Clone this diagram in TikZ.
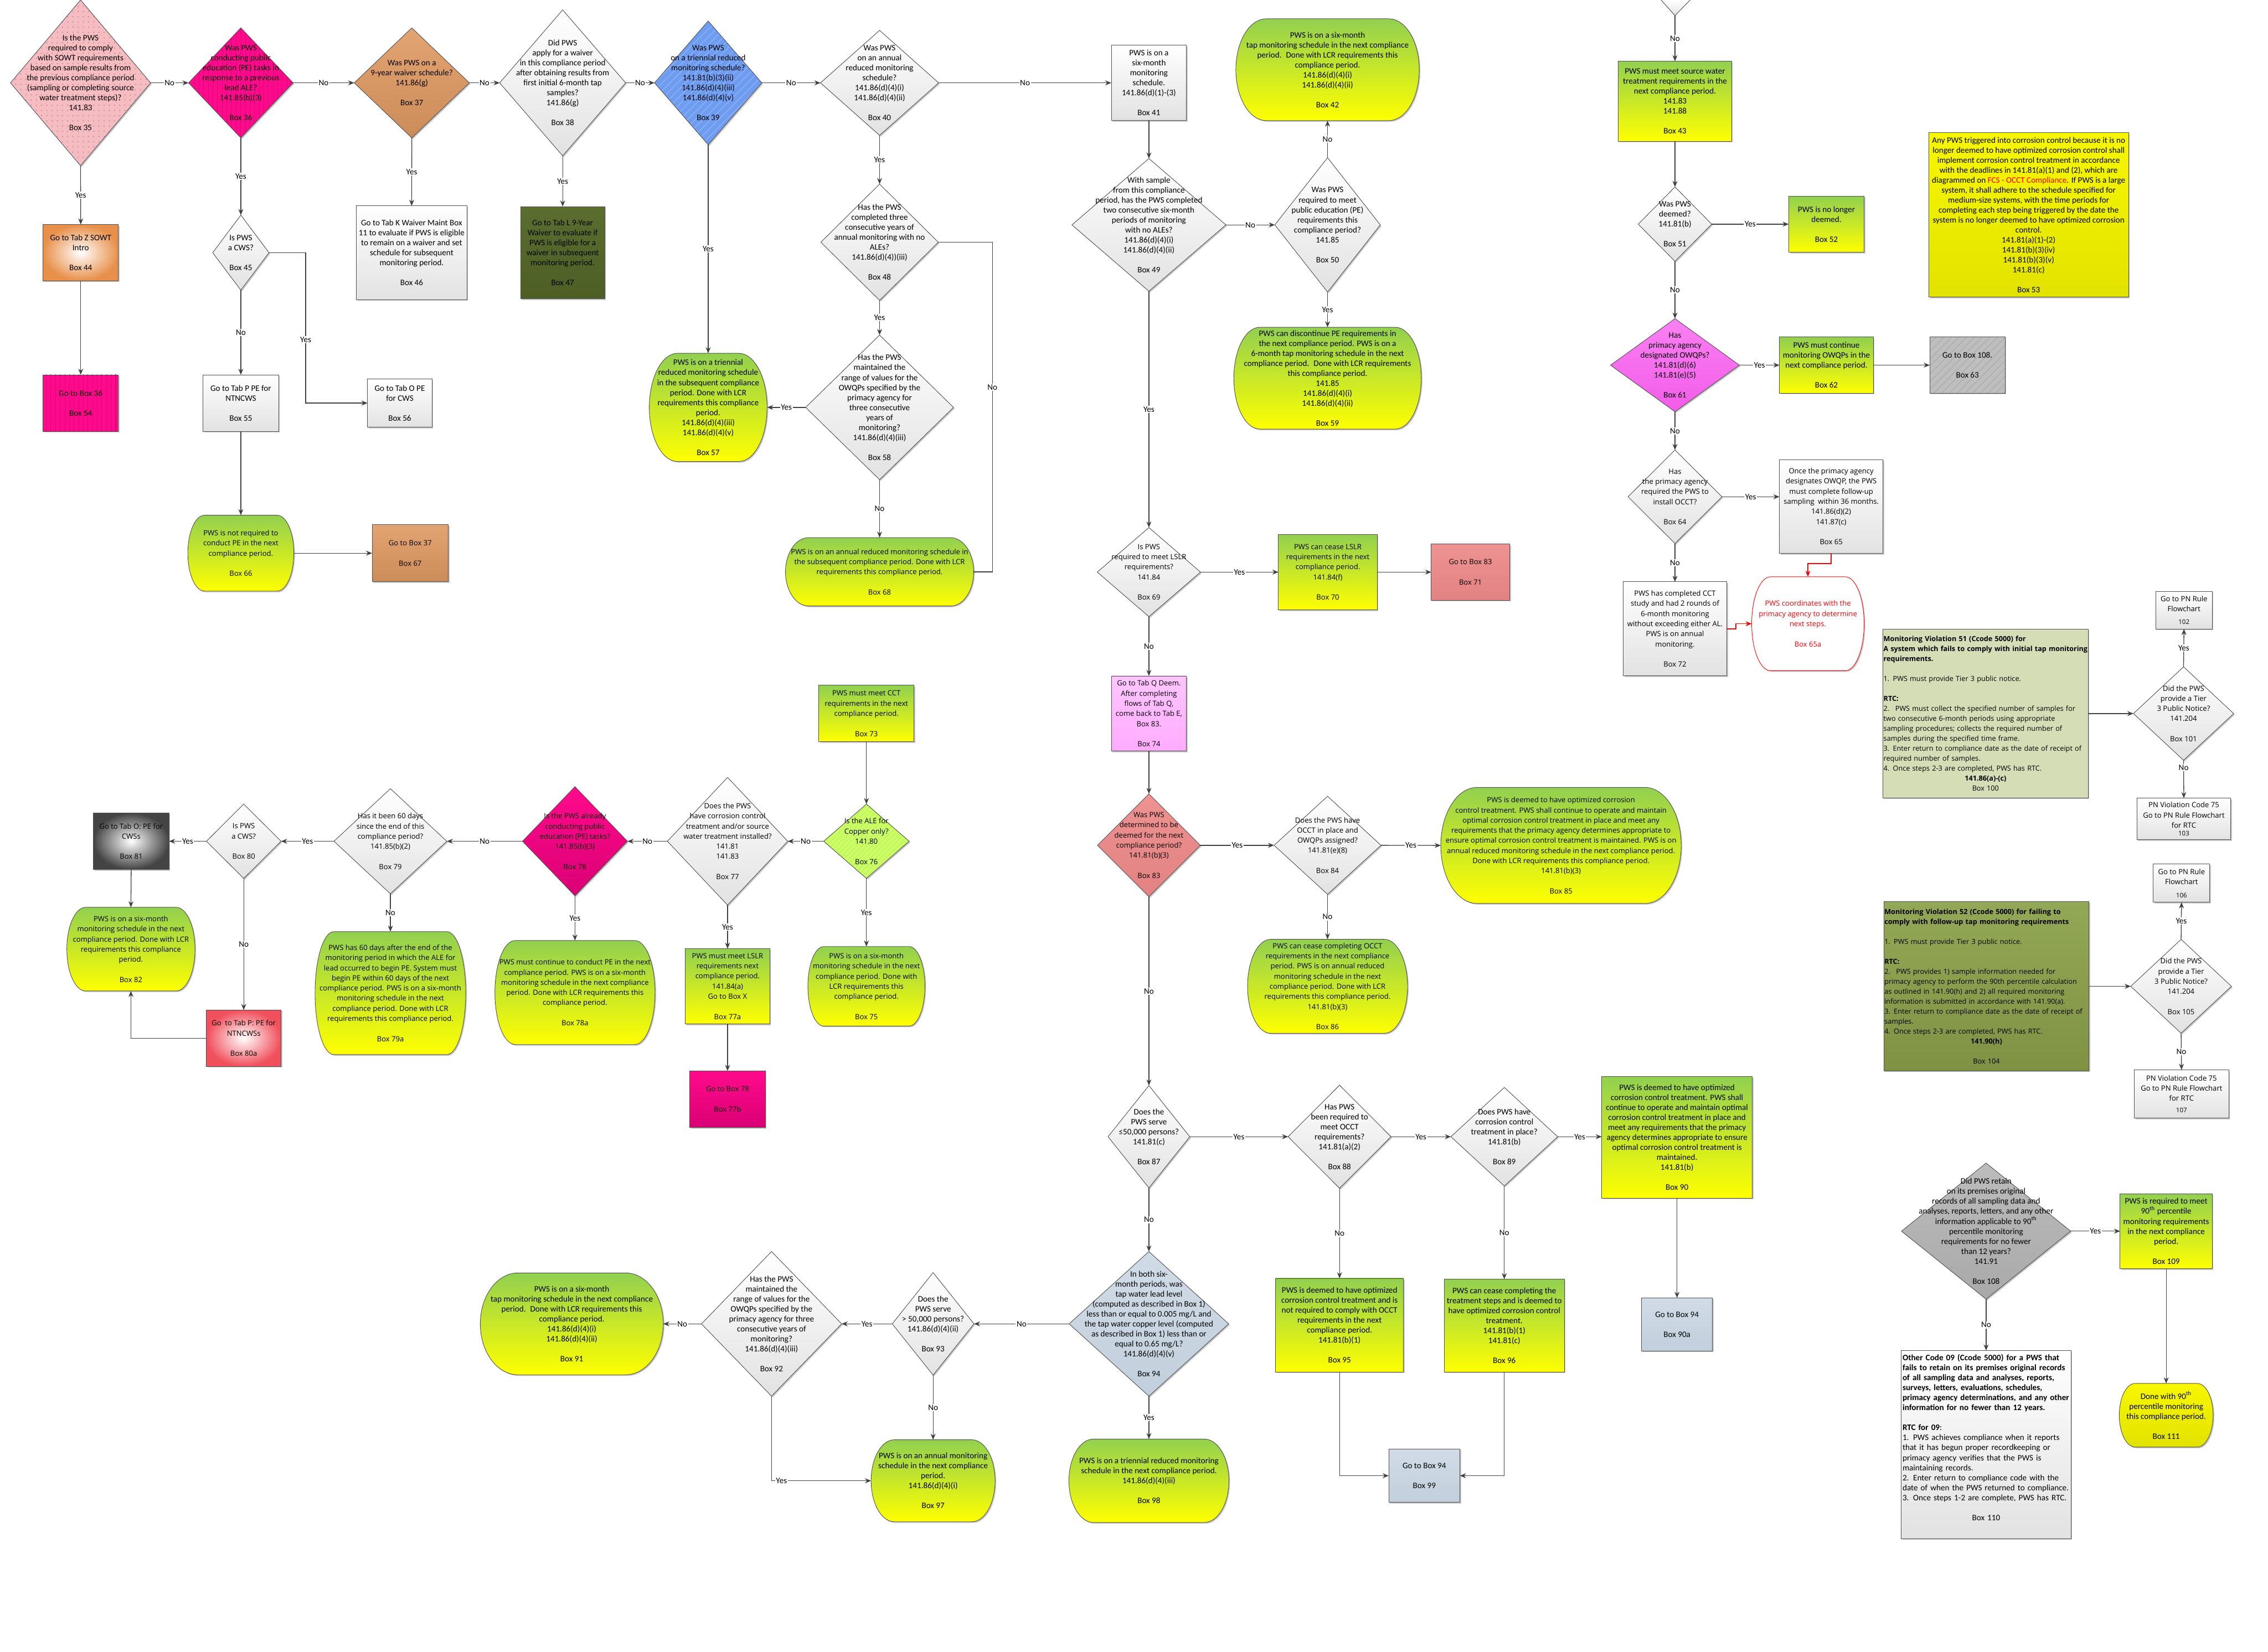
\documentclass[tikz,border=0pt]{standalone}
\usepackage{fontspec}
\usepackage{graphicx}
\setmainfont{Carlito}
\newfontfamily\segfam{Open Sans}
\usetikzlibrary{shapes.geometric,arrows.meta,shadows,patterns.meta}

\definecolor{lc}{HTML}{505050}
\definecolor{ac}{HTML}{404040}
\definecolor{gy1}{HTML}{92D050}
\definecolor{gy2}{HTML}{FFFF00}
\definecolor{g2}{HTML}{E2E2E2}
\definecolor{mag}{HTML}{FF0A8C}
\definecolor{magd}{HTML}{DA0074}
\definecolor{tan1}{HTML}{E2A472}
\definecolor{tan2}{HTML}{CC8C59}
\definecolor{blu}{HTML}{6E9CF0}
\definecolor{blul}{HTML}{93B6F7}
\definecolor{olv1}{HTML}{5B6E30}
\definecolor{olv2}{HTML}{4C5E24}
\definecolor{ora}{HTML}{E8904A}
\definecolor{pnk1}{HTML}{FA80F3}
\definecolor{pnk2}{HTML}{F25CE8}
\definecolor{sal1}{HTML}{EE9292}
\definecolor{sal2}{HTML}{E38282}
\definecolor{lil1}{HTML}{FFC6FF}
\definecolor{lil2}{HTML}{FFABFF}
\definecolor{bg1}{HTML}{D0DBE6}
\definecolor{bg2}{HTML}{C2CFDC}
\definecolor{lgr}{HTML}{CCFF66}
\definecolor{lgrd}{HTML}{B6EC55}
\definecolor{gry}{HTML}{BEBEBE}
\definecolor{gryd}{HTML}{A4A4A4}
\definecolor{ylw1}{HTML}{F7F700}
\definecolor{ylw2}{HTML}{E2E200}
\definecolor{sage}{HTML}{D4DDB6}
\definecolor{ol1}{HTML}{93A856}
\definecolor{ol2}{HTML}{7F9244}
\definecolor{drk}{HTML}{444444}
\definecolor{rdr}{HTML}{F0505C}
\definecolor{gr1}{HTML}{BCBCBC}
\definecolor{gr2}{HTML}{A9A9A9}
\definecolor{pdot}{HTML}{F5BCC2}
\definecolor{pdotd}{HTML}{C9868E}

\newcommand\calf{\fontsize{5.8}{6.9}\selectfont}
\newcommand\segf{\segfam\fontsize{5.0}{7}\selectfont}
\newcommand\panelf{\segfam\fontsize{4.85}{6.9}\selectfont}
\newcommand\gapline{\\[\baselineskip]}
\newcommand\smallno{\fontsize{4.4}{5}\selectfont}
\newcommand\fitline[1]{\resizebox{141pt}{\height}{#1}}

% shape node plus centred text node
\newcommand\bx[8]{%
  \node[#6, minimum width=#4pt, minimum height=#5pt] (#1) at (#2,#3) {};
  \node[#7] at (#1.center) {#8};}
% terminal (stadium with elliptic ends): name, x, y, w, h, end radius, style, text style, text
\newcommand\tm[9]{%
  \node[minimum width=#4pt, minimum height=#5pt, inner sep=0pt, outer sep=0pt] (#1) at (#2,#3) {};
  \path[#7] ([xshift=#6pt]#1.north west) -- ([xshift=-#6pt]#1.north east)
    arc[start angle=90, end angle=-90, x radius=#6pt, y radius=#5pt/2]
    -- ([xshift=#6pt]#1.south west)
    arc[start angle=270, end angle=90, x radius=#6pt, y radius=#5pt/2] -- cycle;
  \node[#8] at (#1.center) {#9};}

\tikzset{
  base/.style={draw=lc, line width=0.35pt, inner sep=0pt, outer sep=0pt,
    drop shadow={shadow xshift=0.8pt, shadow yshift=-0.8pt, opacity=0.22, fill=black}},
  dia/.style={base, shape=diamond},
  rbox/.style={base, rectangle},
  fw/.style={top color=white, bottom color=g2},
  fgy/.style={top color=gy1, bottom color=gy2},
  fdots/.style={preaction={fill=pdot}, pattern={Dots[distance=3.6pt,radius=0.45pt]}, pattern color=pdotd},
  fmagl/.style={preaction={fill=mag}, pattern={Lines[angle=90,distance=3.2pt,line width=0.4pt]}, pattern color=magd},
  ftan/.style={top color=tan1, bottom color=tan2},
  fblue/.style={preaction={fill=blu}, pattern={Lines[angle=45,distance=4pt,line width=0.5pt]}, pattern color=blul},
  folive/.style={top color=olv1, bottom color=olv2},
  forange/.style={inner color=white, outer color=ora},
  fpink/.style={top color=pnk1, bottom color=pnk2},
  fhatch/.style={preaction={fill=gry}, pattern={Lines[angle=45,distance=4pt,line width=0.35pt]}, pattern color=gryd},
  fyel/.style={top color=ylw1, bottom color=ylw2},
  fsalmon/.style={top color=sal1, bottom color=sal2},
  flilac/.style={top color=lil1, bottom color=lil2},
  flime/.style={preaction={fill=lgr}, pattern={Lines[angle=45,distance=2.5pt,line width=0.3pt]}, pattern color=lgrd},
  fmagg/.style={top color=mag, bottom color=magd},
  fdark/.style={inner color=white, outer color=drk},
  fred/.style={inner color=white, outer color=rdr},
  fblue2/.style={top color=bg1, bottom color=bg2},
  fgrey/.style={top color=gr1, bottom color=gr2},
  fsage/.style={fill=sage},
  fol/.style={top color=ol1, bottom color=ol2},
  ct/.style={font=\calf, align=center, inner sep=0pt, text=black},
  st/.style={font=\segf, align=center, inner sep=0pt, text=black},
  pt/.style={font=\panelf, align=left, text width=141pt, inner sep=0pt, text=black},
  lbl/.style={font=\calf, fill=white, inner sep=0.6pt, text=black},
  arr/.style={draw=ac, line width=0.5pt, -{Stealth[length=4.2pt,width=3.4pt]}},
  ln/.style={draw=ac, line width=0.5pt},
  rarr/.style={draw=red, line width=0.6pt, -{Stealth[length=4.2pt,width=3.4pt]}},
}

\begin{document}
\begin{tikzpicture}[x=1pt,y=-1pt]
\useasboundingbox (0,0) rectangle (1568,1142);
\fill[white] (0,0) rectangle (1568,1142);

% ---------- top row ----------
\bx{d35}{55.7}{57.3}{96.9}{114.6}{dia, fdots}{ct}{Is the PWS\\required to comply\\with SOWT requirements\\based on sample results from\\the previous compliance period\\(sampling or completing source\\water treatment steps)?\\141.83\gapline Box 35}
\bx{d36}{166.5}{57.3}{72.3}{76.1}{dia, fmagl}{ct}{Was PWS\\conducting public\\education (PE) tasks in\\response to a previous\\lead ALE?\\141.85(b)(3)\gapline Box 36}
\bx{d37}{284.7}{57.3}{79.6}{76.1}{dia, ftan}{ct}{Was PWS on a\\9-year waiver schedule?\\141.86(g)\gapline Box 37}
\bx{d38}{389}{57.3}{87.1}{100.9}{dia, fw}{ct}{Did PWS\\apply for a waiver\\in this compliance period\\after obtaining results from\\first initial 6-month tap\\samples?\\141.86(g)\gapline Box 38}
\bx{d39}{489.6}{57.3}{74.2}{85.6}{dia, fblue}{ct}{Was PWS\\on a triennial reduced\\monitoring schedule?\\141.81(b)(3)(ii)\\141.86(d)(4)(iii)\\141.86(d)(4)(v)\gapline Box 39}
\bx{d40}{608.1}{57.3}{81.7}{72.6}{dia, fw}{ct}{Was PWS\\on an annual\\reduced monitoring\\schedule?\\141.86(d)(4)(i)\\141.86(d)(4)(ii)\gapline Box 40}
\bx{b41}{794.3}{57.3}{52}{52.1}{rbox, fw}{ct}{PWS is on a\\six-month\\monitoring\\schedule.\\141.86(d)(1)-(3)\gapline Box 41}
\tm{b42}{917.8}{48.2}{126.8}{70.4}{21}{base, fgy}{ct}{PWS is on a six-month\\tap monitoring schedule in the next compliance\\period.~ Done with LCR requirements this\\compliance period.\\141.86(d)(4)(i)\\141.86(d)(4)(ii)\gapline Box 42}

% partial decision at the top edge
\fill[top color=white, bottom color=g2] (1148.4,0) -- (1158,10.8) -- (1168.5,0) -- cycle;
\draw[draw=lc, line width=0.35pt] (1148.4,0) -- (1158,10.8) -- (1168.5,0);
\coordinate (topdia) at (1158,10.8);

\bx{b43}{1158}{70}{78.2}{55.3}{rbox, fgy}{ct}{PWS must meet source water\\treatment requirements in the\\next compliance period.\\141.83\\141.88\gapline Box 43}

% ---------- second band ----------
\bx{b44}{55.8}{174.7}{52.1}{38.9}{rbox, forange}{ct}{Go to Tab Z SOWT\\Intro\gapline Box 44}
\bx{d45}{166.5}{174.7}{38.9}{51.9}{dia, fw}{ct}{Is PWS\\a CWS?\gapline Box 45}
\bx{b46}{284.6}{174.7}{76.5}{64.8}{rbox, fw}{ct}{Go to Tab K Waiver Maint Box\\11 to evaluate if PWS is eligible\\to remain on a waiver and set\\schedule for subsequent\\monitoring period.\gapline Box 46}
\bx{b47}{389}{174.7}{58.1}{63.8}{rbox, folive}{ct}{Go to Tab L 9-Year\\Waiver to evaluate if\\PWS is eligible for a\\waiver in subsequent\\monitoring period.\gapline Box 47}
\bx{d48}{608.1}{167.5}{81.2}{80.4}{dia, fw}{ct}{Has the PWS\\completed three\\consecutive years of\\annual monitoring with no\\ALEs?\\141.86(d)(4))(iii)\gapline Box 48}
\bx{d49}{794.3}{155.5}{106.4}{91.8}{dia, fw}{ct}{With sample\\from this compliance\\period, has the PWS completed\\two consecutive six-month\\periods of monitoring\\with no ALEs?\\141.86(d)(4)(i)\\141.86(d)(4)(ii)\gapline Box 49}
\bx{d50}{917.8}{155.5}{72.9}{92.9}{dia, fw}{ct}{Was PWS\\required to meet\\public education (PE)\\requirements this\\compliance period?\\141.85\gapline Box 50}
\bx{d51}{1158}{155}{50.8}{51.4}{dia, fw}{ct}{Was PWS\\deemed?\\141.81(b)\gapline Box 51}
\bx{b52}{1262.7}{155}{52.1}{38.9}{rbox, fgy}{ct}{PWS is no longer\\deemed.\gapline Box 52}
\bx{b53}{1402.5}{148.6}{138}{113.5}{rbox, fyel}{ct}{Any PWS triggered into corrosion control because it is no\\longer deemed to have optimized corrosion control shall\\implement corrosion control treatment in accordance\\with the deadlines in 141.81(a)(1) and (2), which are\\diagrammed on \textcolor{red}{FCS - OCCT Compliance}. If PWS is a large\\system, it shall adhere to the schedule specified for\\medium-size systems, with the time periods for\\completing each step being triggered by the date the\\system is no longer deemed to have optimized corrosion\\control.\\141.81(a)(1)-(2)\\141.81(b)(3)(iv)\\141.81(b)(3)(v)\\141.81(c)\gapline Box 53}

% ---------- third band ----------
\bx{b54}{55.8}{278.7}{52.1}{39.1}{rbox, fmagl}{ct}{Go to Box 36\gapline Box 54}
\bx{b55}{166.5}{278.7}{52.1}{39.1}{rbox, fw}{ct}{Go to Tab P PE for\\NTNCWS\gapline Box 55}
\bx{b56}{276.4}{278.7}{44.6}{33.3}{rbox, fw}{ct}{Go to Tab O PE\\for CWS\gapline Box 56}
\tm{b57}{489.6}{281.7}{81.4}{74.8}{19.5}{base, fgy}{ct}{PWS is on a triennial\\reduced monitoring schedule\\in the subsequent compliance\\period. Done with LCR\\requirements this compliance\\period.\\141.86(d)(4)(iii)\\141.86(d)(4)(v)\gapline Box 57}
\bx{d58}{608.1}{281.7}{102.2}{100}{dia, fw}{ct}{Has the PWS\\maintained the\\range of values for the\\OWQPs specified by the\\primacy agency for\\three consecutive\\years of\\monitoring?\\141.86(d)(4)(iii)\gapline Box 58}
\tm{b59}{917.8}{261.5}{129.6}{70.4}{18}{base, fgy}{ct}{PWS can discontinue PE requirements in\\the next compliance period. PWS is on a\\6-month tap monitoring schedule in the next\\compliance period.~ Done with LCR requirements\\this compliance period.\\141.85\\141.86(d)(4)(i)\\141.86(d)(4)(ii)\gapline Box 59}
\bx{d61}{1158}{252.5}{89.1}{64.4}{dia, fpink}{ct}{Has\\primacy agency\\designated OWQPs?\\141.81(d)(6)\\141.81(e)(5)\gapline Box 61}
\bx{b62}{1262.7}{252.5}{64.9}{38.9}{rbox, fgy}{ct}{PWS must continue\\monitoring OWQPs in the\\next compliance period.\gapline Box 62}
\bx{b63}{1360.2}{252.5}{52.1}{38.9}{rbox, fhatch}{ct}{Go to Box 108.\gapline Box 63}
\bx{d64}{1158}{343.5}{64.9}{64.7}{dia, fw}{st}{Has\\the primacy agency\\required the PWS to\\install OCCT?\gapline Box 64}
\bx{b65}{1266}{350.2}{71.6}{64.9}{rbox, fw}{st}{Once the primacy agency\\designates OWQP, the PWS\\must complete follow-up\\sampling~ within 36 months.\\141.86(d)(2)\\141.87(c)\gapline Box 65}
\tm{b65a}{1249.9}{431.3}{77.7}{64.9}{13}{base, draw=red, fill=white}{st, text=red}{PWS coordinates with the\\primacy agency to determine\\next steps.\gapline Box 65a}
\bx{b72}{1158}{434.8}{71.6}{65}{rbox, fw}{st}{PWS has completed CCT\\study and had 2 rounds of\\6-month monitoring\\without exceeding either AL.\\PWS is on annual\\monitoring.\gapline Box 72}

% ---------- fourth band ----------
\tm{b66}{166.5}{382.5}{73.3}{52.5}{11.6}{base, fgy}{st}{PWS is not required to\\conduct PE in the next\\compliance period.\gapline Box 66}
\bx{b67}{283.6}{382.5}{52.7}{39.6}{rbox, ftan}{st}{Go to Box 37\gapline Box 67}
\tm{b68}{608.1}{395.4}{130.1}{47.3}{16}{base, fgy}{st}{PWS is on an annual reduced monitoring schedule in\\the subsequent compliance period. Done with LCR\\requirements this compliance period.\gapline Box 68}
\bx{d69}{794.3}{395.6}{71.3}{61.6}{dia, fw}{st}{Is PWS\\required to meet LSLR\\requirements?\\141.84\gapline Box 69}
\bx{b70}{918}{395.6}{68.3}{52.2}{rbox, fgy}{st}{PWS can cease LSLR\\requirements in the next\\compliance period.\\141.84(f)\gapline Box 70}
\bx{b71}{1016.6}{395.6}{54.2}{39}{rbox, fsalmon}{st}{Go to Box 83\gapline Box 71}

% ---------- violation panels ----------
\bx{b102}{1509.9}{421.9}{39}{26.1}{rbox, fw}{st}{Go to PN Rule\\Flowchart\\[2pt]{\smallno 102}}
\node[rbox, fsage, minimum width=141.7pt, minimum height=116.7pt] (b100) at (1372.7,493.4) {};
\node[pt] at (b100.center) {\textbf{Monitoring Violation 51 (Ccode 5000) for}\\
\fitline{\textbf{A system which fails to comply with initial tap monitoring}}\\
\textbf{requirements.}\gapline
1. PWS must provide Tier 3 public notice.\gapline
\textbf{RTC:}\\
2.~ PWS must collect the specified number of samples for\\
two consecutive 6-month periods using appropriate\\
sampling procedures; collects the required number of\\
samples during the specified time frame.\\
3. Enter return to compliance date as the date of receipt of\\
required number of samples.\\
4. Once steps 2-3 are completed, PWS has RTC.\\
\makebox[141pt]{\textbf{141.86(a)-(c)}}\\
\makebox[141pt]{Box 100}};
\bx{d101}{1509.6}{493.4}{69.3}{64.6}{dia, fw}{st}{Did the PWS\\provide a Tier\\3 Public Notice?\\141.204\gapline Box 101}
\bx{b103}{1509.8}{566.3}{64.9}{28.8}{rbox, fw}{st}{PN Violation Code 75\\Go to PN Rule Flowchart\\for RTC\\[-1.5pt]{\smallno 103}}

\bx{b106}{1508.2}{610.7}{39}{26.4}{rbox, fw}{st}{Go to PN Rule\\Flowchart\\[2pt]{\smallno 106}}
\node[rbox, fol, minimum width=141.7pt, minimum height=117pt] (b104) at (1373.3,682) {};
\node[pt] at (b104.center) {\textbf{Monitoring Violation 52 (Ccode 5000) for failing to}\\
\textbf{comply with follow-up tap monitoring requirements}\gapline
1. PWS must provide Tier 3 public notice.\gapline
\textbf{RTC:}\\
2.~ PWS provides 1) sample information needed for\\
primacy agency to perform the 90th percentile calculation\\
as outlined in 141.90(h) and 2) all required monitoring\\
information is submitted in accordance with 141.90(a).\\
3. Enter return to compliance date as the date of receipt of\\
samples.\\
4. Once steps 2-3 are completed, PWS has RTC.\\
\makebox[141pt]{\textbf{141.90(h)}}\gapline
\makebox[141pt]{Box 104}};
\bx{d105}{1507.9}{682}{69.6}{64.9}{dia, fw}{st}{Did the PWS\\provide a Tier\\3 Public Notice?\\141.204\gapline Box 105}
\bx{b107}{1508.2}{756.5}{65.2}{33.5}{rbox, fw}{st}{PN Violation Code 75\\Go to PN Rule Flowchart\\for RTC\\[1pt]{\smallno 107}}

% ---------- middle band ----------
\bx{b73}{599}{493.4}{65.8}{39}{rbox, fgy}{st}{PWS must meet CCT\\requirements in the next\\compliance period.\gapline Box 73}
\bx{b74}{794.3}{493.4}{52}{52}{rbox, flilac}{st}{Go to Tab Q Deem.\\After completing\\flows of Tab Q,\\come back to Tab E,\\Box 83.\gapline Box 74}
\bx{d76}{599}{581.7}{59.1}{51.4}{dia, flime}{st}{Is the ALE for\\Copper only?\\141.80\gapline Box 76}
\bx{d77}{503}{581.7}{83.2}{88.3}{dia, fw}{st}{Does the PWS\\have corrosion control\\treatment and/or source\\water treatment installed?\\141.81\\141.83\gapline Box 77}
\bx{d78}{397.5}{581.7}{72.6}{75.5}{dia, fmagg}{st}{Is the PWS already\\conducting public\\education (PE) tasks?\\141.85(b)(3)\gapline Box 78}
\bx{d79}{269.9}{581.7}{78}{72.7}{dia, fw}{st}{Has it been 60 days\\since the end of this\\compliance period?\\141.85(b)(2)\gapline Box 79}
\bx{d80}{168.5}{581.7}{51.6}{51.4}{dia, fw}{st}{Is PWS\\a CWS?\gapline Box 80}
\bx{b81}{90.7}{581.7}{52.3}{39}{rbox, fdark}{st}{Go to Tab O: PE for\\CWSs\gapline Box 81}
\tm{b82}{90.5}{656.3}{88.6}{57.8}{13}{base, fgy}{st}{PWS is on a six-month\\monitoring schedule in the next\\compliance period. Done with LCR\\requirements this compliance\\period.\gapline Box 82}
\bx{b80a}{168.5}{717.9}{51.6}{39}{rbox, fred}{st}{Go~ to Tab P: PE for\\NTNCWSs\gapline Box 80a}
\tm{b79a}{269.9}{686.7}{104.2}{85}{13}{base, fgy}{st}{PWS has 60 days after the end of the\\monitoring period in which the ALE for\\lead occurred to begin PE. System must\\begin PE within 60 days of the next\\compliance period. PWS is on a six-month\\monitoring schedule in the next\\compliance period. Done with LCR\\requirements this compliance period.\gapline Box 79a}
\tm{b78a}{397.5}{686.3}{110.7}{71.9}{14}{base, fgy}{st}{PWS must continue to conduct PE in the next\\compliance period. PWS is on a six-month\\monitoring schedule in the next compliance\\period. Done with LCR requirements this\\compliance period.\gapline Box 78a}
\bx{b77a}{503}{682}{58.3}{52}{rbox, fgy}{st}{PWS must meet LSLR\\requirements next\\compliance period.\\141.84(a)\\Go to Box X\gapline Box 77a}
\tm{b75}{599}{682}{80.9}{55}{11}{base, fgy}{st}{PWS is on a six-month\\monitoring schedule in the next\\compliance period. Done with\\LCR requirements this\\compliance period.\gapline Box 75}
\bx{b77b}{503}{760.1}{52.1}{39.2}{rbox, fmagg}{st}{Go to Box 78\gapline Box 77b}
\bx{d83}{794.3}{584.5}{71.1}{71.1}{dia, fsalmon}{st}{Was PWS\\determined to be\\deemed for the next\\compliance period?\\141.81(b)(3)\gapline Box 83}
\bx{d84}{917.8}{584.5}{73.9}{67.8}{dia, fw}{st}{Does the PWS have\\OCCT in place and\\OWQPs assigned?\\141.81(e)(8)\gapline Box 84}
\tm{b85}{1079.2}{584.6}{166.2}{80.2}{25}{base, fgy}{st}{PWS is deemed to have optimized corrosion\\control treatment. PWS shall continue to operate and maintain\\optimal corrosion control treatment in place and meet any\\requirements that the primacy agency determines appropriate to\\ensure optimal corrosion control treatment is maintained. PWS is on\\annual reduced monitoring schedule in the next compliance period.\\Done with LCR requirements this compliance period.\\141.81(b)(3)\gapline Box 85}
\tm{b86}{917.8}{682}{110.6}{65}{16}{base, fgy}{st}{PWS can cease completing OCCT\\requirements in the next compliance\\period. PWS is on annual reduced\\monitoring schedule in the next\\compliance period. Done with LCR\\requirements this compliance period.\\141.81(b)(3)\gapline Box 86}

% ---------- bottom band ----------
\bx{d87}{794.3}{786}{56.5}{70.8}{dia, fw}{ct}{Does the\\PWS serve\\≤50,000 persons?\\141.81(c)\gapline Box 87}
\bx{d88}{926.1}{786}{71.1}{71.3}{dia, fw}{ct}{Has PWS\\been required to\\meet OCCT\\requirements?\\141.81(a)(2)\gapline Box 88}
\bx{d89}{1040}{786}{73.8}{68.1}{dia, fw}{ct}{Does PWS have\\corrosion control\\treatment in place?\\141.81(b)\gapline Box 89}
\bx{b90}{1159.4}{786.5}{104}{84}{rbox, fgy}{ct}{PWS is deemed to have optimized\\corrosion control treatment. PWS shall\\continue to operate and maintain optimal\\corrosion control treatment in place and\\meet any requirements that the primacy\\agency determines appropriate to ensure\\optimal corrosion control treatment is\\maintained.\\141.81(b)\gapline Box 90}
\bx{b90a}{1159.4}{915.8}{48.9}{36.7}{rbox, fblue2}{ct}{Go to Box 94\gapline Box 90a}
\bx{d94}{794.3}{915.4}{110.3}{100}{dia, fblue2}{ct}{In both six-\\month periods, was\\tap water lead level\\(computed as described in Box 1)\\less than or equal to 0.005 mg/L and\\the tap water copper level (computed\\as described in Box 1) less than or\\equal to 0.65 mg/L?\\141.86(d)(4)(v)\gapline Box 94}
\bx{d93}{645.1}{915.4}{56.5}{70.9}{dia, fw}{ct}{Does the\\PWS serve\\> 50,000 persons?\\141.86(d)(4)(ii)\gapline Box 93}
\bx{d92}{533.4}{915.4}{96.9}{100}{dia, fw}{ct}{Has the PWS\\maintained the\\range of values for the\\OWQPs specified by the\\primacy agency for three\\consecutive years of\\monitoring?\\141.86(d)(4)(iii)\gapline Box 92}
\tm{b91}{395.3}{915.4}{126.5}{70.4}{26}{base, fgy}{ct}{PWS is on a six-month\\tap monitoring schedule in the next compliance\\period.~ Done with LCR requirements this\\compliance period.\\141.86(d)(4)(i)\\141.86(d)(4)(ii)\gapline Box 91}
\tm{b97}{645.1}{1023.9}{85.7}{56.7}{16}{base, fgy}{ct}{PWS is on an annual monitoring\\schedule in the next compliance\\period.\\141.86(d)(4)(i)\gapline Box 97}
\tm{b98}{794.3}{1023.9}{110.6}{57.7}{17}{base, fgy}{ct}{PWS is on a triennial reduced monitoring\\schedule in the next compliance period.\\141.86(d)(4)(iii)\gapline Box 98}
\bx{b95}{926.1}{916.3}{88.5}{64.8}{rbox, fgy}{ct}{PWS is deemed to have optimized\\corrosion control treatment and is\\not required to comply with OCCT\\requirements in the next\\compliance period.\\141.81(b)(1)\gapline Box 95}
\bx{b96}{1040}{916.6}{83}{64.2}{rbox, fgy}{ct}{PWS can cease completing the\\treatment steps and is deemed to\\have optimized corrosion control\\treatment.\\141.81(b)(1)\\141.81(c)\gapline Box 96}
\bx{b99}{984.7}{1020.4}{49.2}{36.9}{rbox, fblue2}{ct}{Go to Box 94\gapline Box 99}
\bx{d108}{1373.1}{851.3}{117}{94.1}{dia, fgrey}{ct}{Did PWS retain\\on its premises original\\records of all sampling data and\\analyses, reports, letters, and any other\\information applicable to 90\textsuperscript{th}\\percentile monitoring\\requirements for no fewer\\than 12 years?\\141.91\gapline Box 108}
\bx{b109}{1497.6}{851.3}{63.7}{51.9}{rbox, fgy}{ct}{PWS is required to meet\\90\textsuperscript{th} percentile\\monitoring requirements\\in the next compliance\\period.\gapline Box 109}
\node[rbox, fw, minimum width=117.3pt, minimum height=130.1pt] (b110) at (1373.1,998.9) {};
\node[ct, align=left, text width=115.5pt, anchor=north] at ([yshift=-2.5pt]b110.north) {\textbf{Other Code 09 (Ccode 5000) for a PWS that}\\
\textbf{fails to retain on its premises original records}\\
\textbf{of all sampling data and analyses, reports,}\\
\textbf{surveys, letters, evaluations, schedules,}\\
\textbf{primacy agency determinations, and any other}\\
\textbf{information for no fewer than 12 years.}\gapline
\textbf{RTC for 09}:\\
1. PWS achieves compliance when it reports\\
that it has begun proper recordkeeping or\\
primacy agency verifies that the PWS is\\
maintaining records.\\
2. Enter return to compliance code with the\\
date of when the PWS returned to compliance.\\
3. Once steps 1-2 are complete, PWS has RTC.\gapline
\makebox[115.5pt]{Box 110}};
\tm{b111}{1497.6}{978.6}{64.9}{44}{11}{base, fyel}{ct}{Done with 90\textsuperscript{th}\\percentile monitoring\\this compliance period.\gapline Box 111}

% ---------- connectors ----------
\draw[arr] (d35.east) -- node[lbl]{No} (d36.west);
\draw[arr] (d35.south) -- node[lbl]{Yes} (b44.north);
\draw[arr] (b44.south) -- (b54.north);
\draw[arr] (d36.east) -- node[lbl]{No} (d37.west);
\draw[arr] (d36.south) -- node[lbl]{Yes} (d45.north);
\draw[arr] (d45.south) -- node[lbl]{No} (b55.north);
\draw[arr] (d45.east) -- ++(25.4,0) |- node[lbl,pos=0.29]{Yes} (b56.west);
\draw[arr] (b55.south) -- (b66.north);
\draw[arr] (b66.east) -- (b67.west);
\draw[arr] (d37.south) -- node[lbl]{Yes} (b46.north);
\draw[arr] (d37.east) -- node[lbl]{No} (d38.west);
\draw[arr] (d38.south) -- node[lbl]{Yes} (b47.north);
\draw[arr] (d38.east) -- node[lbl]{No} (d39.west);
\draw[arr] (d39.east) -- node[lbl]{No} (d40.west);
\draw[arr] (d39.south) -- node[lbl]{Yes} (b57.north);
\draw[arr] (d40.east) -- node[lbl]{No} (b41.west);
\draw[arr] (d40.south) -- node[lbl]{Yes} (d48.north);
\draw[arr] (d48.south) -- node[lbl]{Yes} (d58.north);
\draw[arr] (d58.west) -- node[lbl]{Yes} (b57.east);
\draw[arr] (d58.south) -- node[lbl]{No} (b68.north);
\draw[ln] (d48.east) -- ++(37.4,0) |- node[lbl,pos=0.22]{No} (b68.east);
\draw[arr] (b41.south) -- (d49.north);
\draw[arr] (d49.east) -- node[lbl]{No} (d50.west);
\draw[arr] (d50.north) -- node[lbl]{No} (b42.south);
\draw[arr] (d50.south) -- node[lbl]{Yes} (b59.north);
\draw[arr] (d49.south) -- node[lbl]{Yes} (d69.north);
\draw[arr] (d69.east) -- node[lbl]{Yes} (b70.west);
\draw[arr] (b70.east) -- (b71.west);
\draw[arr] (d69.south) -- node[lbl]{No} (b74.north);
\draw[arr] (b74.south) -- (d83.north);
\draw[arr] (d83.east) -- node[lbl]{Yes} (d84.west);
\draw[arr] (d84.east) -- node[lbl]{Yes} (b85.west);
\draw[arr] (d84.south) -- node[lbl]{No} (b86.north);
\draw[arr] (d83.south) -- node[lbl]{No} (d87.north);
\draw[arr] (d87.east) -- node[lbl]{Yes} (d88.west);
\draw[arr] (d88.east) -- node[lbl]{Yes} (d89.west);
\draw[arr] (d89.east) -- node[lbl]{Yes} (d89.east -| b90.west);
\draw[arr] (b90.south) -- (b90a.north);
\draw[arr] (d88.south) -- node[lbl]{No} (b95.north);
\draw[arr] (d89.south) -- node[lbl]{No} (b96.north);
\draw[arr] (b95.south) |- (b99.west);
\draw[arr] (b96.south) |- (b99.east);
\draw[arr] (d87.south) -- node[lbl]{No} (d94.north);
\draw[arr] (d94.west) -- node[lbl]{No} (d93.east);
\draw[arr] (d93.west) -- node[lbl]{Yes} (d92.east);
\draw[arr] (d92.west) -- node[lbl]{No} (b91.east);
\draw[arr] (d93.south) -- node[lbl]{No} (b97.north);
\draw[arr] (d92.south) |- node[lbl,pos=0.55]{Yes} (b97.west);
\draw[arr] (d94.south) -- node[lbl]{Yes} (b98.north);
\draw[arr] (topdia) -- node[lbl]{No} (b43.north);
\draw[arr] (b43.south) -- (d51.north);
\draw[arr] (d51.east) -- node[lbl]{Yes} (b52.west);
\draw[arr] (d51.south) -- node[lbl]{No} (d61.north);
\draw[arr] (d61.east) -- node[lbl]{Yes} (b62.west);
\draw[arr] (b62.east) -- (b63.west);
\draw[arr] (d61.south) -- node[lbl]{No} (d64.north);
\draw[arr] (d64.east) -- node[lbl]{Yes} (d64.east -| b65.west);
\draw[arr] (d64.south) -- node[lbl]{No} (b72.north);
\draw[rarr] (b65.south) -- ++(0,7) -| (b65a.north);
\draw[rarr] (b72.east) -- ++(6.4,0) |- (b65a.west);
\draw[arr] (b100.east) -- (b100.east -| d101.west);
\draw[arr] (d101.north) -- node[lbl]{Yes} (b102.south);
\draw[arr] (d101.south) -- node[lbl,pos=0.2]{No} (b103.north);
\draw[arr] (b104.east) -- (b104.east -| d105.west);
\draw[arr] (d105.north) -- node[lbl]{Yes} (b106.south);
\draw[arr] (d105.south) -- node[lbl]{No} (b107.north);
\draw[arr] (d108.east) -- node[lbl]{Yes} (b109.west);
\draw[arr] (d108.south) -- node[lbl]{No} (b110.north);
\draw[arr] (b109.south) -- (b111.north);
\draw[arr] (b73.south) -- (d76.north);
\draw[arr] (d76.west) -- node[lbl]{No} (d77.east);
\draw[arr] (d76.south) -- node[lbl]{Yes} (b75.north);
\draw[arr] (d77.west) -- node[lbl]{No} (d78.east);
\draw[arr] (d77.south) -- node[lbl]{Yes} (b77a.north);
\draw[arr] (b77a.south) -- (b77b.north);
\draw[arr] (d78.west) -- node[lbl]{No} (d79.east);
\draw[arr] (d78.south) -- node[lbl]{Yes} (b78a.north);
\draw[arr] (d79.west) -- node[lbl]{Yes} (d80.east);
\draw[arr] (d79.south) -- node[lbl]{No} (b79a.north);
\draw[arr] (d80.west) -- node[lbl]{Yes} (b81.east);
\draw[arr] (d80.south) -- node[lbl]{No} (b80a.north);
\draw[arr] (b81.south) -- (b82.north);
\draw[arr] (b80a.west) -| (b82.south);
\end{tikzpicture}
\end{document}
